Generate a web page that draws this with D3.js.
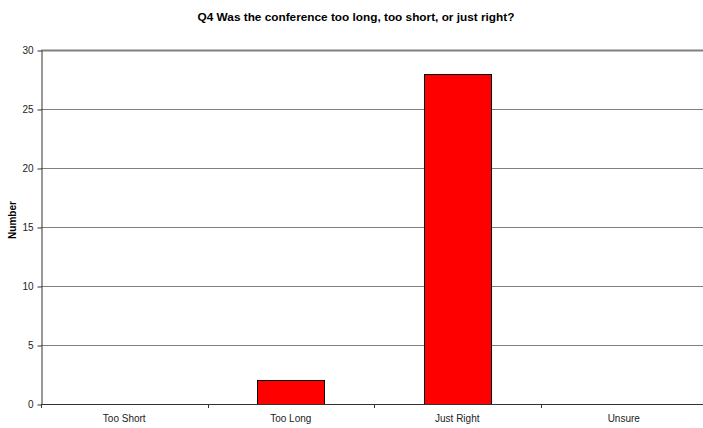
<!DOCTYPE html>
<html><head><meta charset="utf-8">
<script src="https://cdn.jsdelivr.net/npm/d3@7"></script>
<style>body{margin:0;background:#fff}svg{display:block;font-family:"Liberation Sans",Arial,sans-serif}</style>
</head><body><svg id="c" width="703" height="428"></svg>
<script>
const categories = ["Too Short", "Too Long", "Just Right", "Unsure"];
const values = [0, 2, 28, 0];
const yTicks = [0, 5, 10, 15, 20, 25, 30];
const title = "Q4 Was the conference too long, too short, or just right?";
const yLabel = "Number";

(function () {
const svg = d3.select("#c");
const pL = 41, pR = 707, pT = 50, pB = 404;
const x = d3.scaleBand().domain(categories).range([pL, pR]).paddingInner(0.6).paddingOuter(0.3);
const xb = d3.scaleBand().domain(categories).range([pL, pR]);
const y = d3.scaleLinear().domain([0, 30]).range([pB, pT]);

// gridlines
svg.append("g").selectAll("line").data(yTicks.filter(d => d > 0)).join("line")
  .attr("x1", pL).attr("x2", pR)
  .attr("y1", d => y(d) + 0.5).attr("y2", d => y(d) + 0.5)
  .attr("stroke", "#808080").attr("stroke-width", d => d === 30 ? 2 : 1);

// bars
svg.append("g").selectAll("rect").data(categories.map((c, i) => ({c, v: values[i]})).filter(d => d.v > 0)).join("rect")
  .attr("x", d => Math.round(x(d.c)) + 0.5).attr("width", Math.round(x.bandwidth()))
  .attr("y", d => Math.round(y(d.v)) + 0.5).attr("height", d => pB - Math.round(y(d.v)))
  .attr("fill", "#ff0000").attr("stroke", "#000").attr("stroke-width", 1);

// y axis
const ya = svg.append("g").attr("transform", `translate(${pL + 0.5},0.5)`)
  .call(d3.axisLeft(y).tickValues(yTicks).tickSize(4).tickSizeOuter(0));
ya.select(".domain").attr("stroke", "#333");
ya.selectAll(".tick line").attr("stroke", "#333");
ya.selectAll("text").attr("font-size", 10).attr("fill", "#222").attr("font-family", '"Liberation Sans",Arial,sans-serif').attr("x", -8);

// x axis
const xg = svg.append("g");
xg.append("line").attr("x1", pL).attr("x2", pR).attr("y1", pB + 0.5).attr("y2", pB + 0.5).attr("stroke", "#333");
xg.selectAll("line.t").data(categories).join("line").attr("class", "t")
  .attr("x1", d => Math.round(xb(d)) + 0.5).attr("x2", d => Math.round(xb(d)) + 0.5)
  .attr("y1", pB).attr("y2", pB + 4).attr("stroke", "#333");
xg.selectAll("text").data(categories).join("text")
  .attr("x", d => xb(d) + xb.bandwidth() / 2).attr("y", 422)
  .attr("text-anchor", "middle").attr("font-size", 10).attr("fill", "#222").text(d => d);

// title
svg.append("text").attr("x", 356).attr("y", 21).attr("text-anchor", "middle")
  .attr("font-size", 11.8).attr("font-weight", "bold").attr("fill", "#000").text(title);

// y label
svg.append("text").attr("transform", "translate(16,220) rotate(-90)").attr("text-anchor", "middle")
  .attr("font-size", 10).attr("font-weight", "bold").attr("fill", "#000").text(yLabel);
})();
</script></body></html>
